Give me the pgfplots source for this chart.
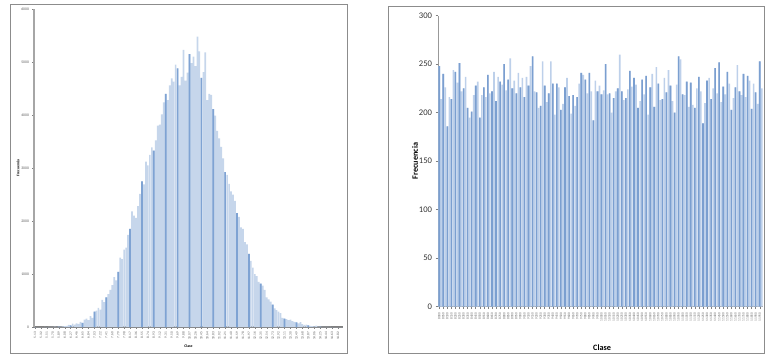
\documentclass[border=0pt]{standalone}
\usepackage{pgfplots}
\pgfplotsset{compat=1.18}
\usepackage{pgfplotstable}
\usepackage{fontspec}
\setmainfont{Carlito}
\definecolor{barlight}{HTML}{C6D6EB}
\definecolor{bardark}{HTML}{7FA3D3}
\definecolor{rlight}{HTML}{BDD0EA}
\definecolor{rdark}{HTML}{7B9FD0}
\definecolor{framegray}{HTML}{8C8C8C}

\pgfplotstableread[row sep=\\]{
y\\
0\\0\\0\\0\\0\\1\\0\\2\\3\\2\\5\\4\\8\\6\\12\\15\\22\\38\\30\\62\\
45\\70\\58\\95\\80\\140\\160\\130\\205\\170\\290\\310\\360\\330\\510\\470\\560\\620\\700\\790\\
940\\880\\1040\\1310\\1280\\1460\\1500\\1740\\1850\\2180\\2100\\2060\\2280\\2510\\2750\\2690\\3120\\3050\\3250\\3390\\
3330\\3520\\3800\\3820\\4010\\4240\\4400\\4280\\4560\\4690\\4630\\4950\\4880\\4560\\4720\\5230\\4650\\4800\\5150\\4980\\
5100\\4920\\5480\\5200\\4700\\4810\\5180\\4280\\4400\\4380\\4110\\3990\\3700\\3560\\3400\\3180\\2920\\2870\\2700\\2560\\
2500\\2380\\2150\\2080\\1880\\1850\\1600\\1560\\1380\\1250\\1120\\1000\\960\\850\\820\\780\\700\\560\\520\\480\\
420\\350\\320\\290\\260\\170\\160\\150\\130\\140\\110\\95\\85\\70\\90\\55\\40\\45\\30\\22\\
18\\12\\25\\8\\6\\4\\3\\2\\1\\1\\0\\0\\0\\0\\0\\0\\
}\normaldata

\pgfplotstableread[row sep=\\]{
y\\
248\\214\\240\\226\\186\\216\\214\\244\\242\\231\\251\\222\\225\\237\\205\\195\\201\\218\\228\\232\\
195\\218\\226\\216\\239\\220\\222\\242\\212\\237\\232\\229\\250\\223\\234\\256\\225\\233\\220\\241\\
226\\236\\216\\237\\228\\248\\258\\222\\221\\205\\207\\253\\228\\211\\220\\253\\230\\198\\230\\226\\
203\\209\\226\\236\\217\\199\\218\\207\\216\\230\\241\\239\\234\\220\\241\\222\\192\\233\\222\\228\\
219\\223\\250\\219\\220\\200\\215\\222\\225\\260\\222\\213\\215\\224\\243\\227\\236\\229\\205\\212\\
234\\219\\238\\198\\226\\240\\206\\247\\230\\213\\214\\236\\221\\244\\228\\212\\200\\229\\258\\255\\
219\\218\\232\\206\\231\\208\\205\\225\\237\\222\\189\\210\\233\\236\\214\\225\\246\\220\\252\\211\\
227\\219\\242\\230\\203\\215\\226\\249\\222\\218\\240\\216\\238\\233\\204\\230\\221\\209\\253\\225\\
}\uniformdata

\begin{document}
\begin{tikzpicture}[x=1pt,y=1pt]
\path[use as bounding box] (0,0) rectangle (765,354);
\draw[framegray, line width=0.9pt] (10,1) rectangle (347,349.7);
\draw[framegray, line width=0.9pt] (388,1) rectangle (764.5,348);

% Left chart
\begin{axis}[
  at={(34pt,27pt)}, anchor=south west, scale only axis,
  width=309pt, height=318pt,
  xmin=-0.5, xmax=155.5, ymin=0, ymax=6000,
  axis x line*=bottom, axis y line*=left,
  x axis line style={draw=gray, line width=1.6pt},
  y axis line style={draw=gray!70, line width=1.2pt},
  tick align=outside, major tick length=1.5pt,
  tick style={draw=gray, line width=0.4pt},
  ytick={0,1000,...,6000},
  scaled y ticks=false,
  /pgf/number format/1000 sep={},
  /pgf/number format/assume math mode=true,
  yticklabel style={font=\fontsize{3.8}{4}\selectfont, text=gray!70!black},
  xtick={0,3,...,153},
  xticklabel={\pgfmathparse{5.13+0.19*\tick/3}\pgfmathprintnumber[fixed,fixed zerofill,precision=2]{\pgfmathresult}},
  xticklabel style={rotate=90, anchor=east, font=\fontsize{3.4}{3.5}\selectfont, text=gray!70!black},
  xlabel={\textbf{Clase}}, ylabel={\textbf{Frecuencia}},
  xlabel style={at={(axis description cs:0.5,-0.06)}, anchor=center, font=\fontsize{3.8}{4}\selectfont},
  ylabel style={at={(axis description cs:-0.052,0.5)}, anchor=center, rotate=0, font=\fontsize{3.8}{4}\selectfont},
]
\addplot[ybar, bar width=0.85, bar shift=0pt, fill=barlight, draw=none] table[x expr=\coordindex, y=y]{\normaldata};
\addplot[ybar, bar width=0.85, bar shift=0pt, fill=bardark, draw=none, each nth point=6, filter discard warning=false] table[x expr=\coordindex, y=y]{\normaldata};
\end{axis}

% Right chart
\begin{axis}[
  at={(438pt,47.3pt)}, anchor=south west, scale only axis,
  width=325pt, height=291pt,
  xmin=-0.6, xmax=159.6, ymin=0, ymax=300,
  axis x line*=bottom, axis y line*=left,
  x axis line style={draw=gray!80, line width=1pt},
  y axis line style={draw=gray!80, line width=0.8pt},
  tick align=outside, major tick length=2.5pt,
  tick style={draw=gray, line width=0.5pt},
  ytick={0,50,...,300},
  /pgf/number format/assume math mode=true,
  yticklabel style={font=\fontsize{8.6}{10}\selectfont, text=black!80},
  xtick={0,2,...,158},
  xticklabel={\pgfmathtruncatemacro\lbl{8000+25*\tick}\lbl},
  xticklabel style={rotate=90, anchor=east, font=\fontsize{3.4}{3.5}\selectfont, text=gray!80!black},
  xlabel={\textbf{Clase}}, ylabel={\textbf{Frecuencia}},
  xlabel style={at={(axis description cs:0.505,-0.141)}, anchor=center, font=\fontsize{8.2}{10}\selectfont},
  ylabel style={at={(axis description cs:-0.071,0.5)}, anchor=center, font=\fontsize{8.2}{10}\selectfont},
]
\addplot[ybar, bar width=0.78, bar shift=0pt, fill=rlight, draw=none] table[x expr=\coordindex, y=y]{\uniformdata};
\addplot[ybar, bar width=0.78, bar shift=0pt, fill=rdark, draw=none, each nth point=2, filter discard warning=false] table[x expr=\coordindex, y=y]{\uniformdata};
\end{axis}
\end{tikzpicture}
\end{document}
